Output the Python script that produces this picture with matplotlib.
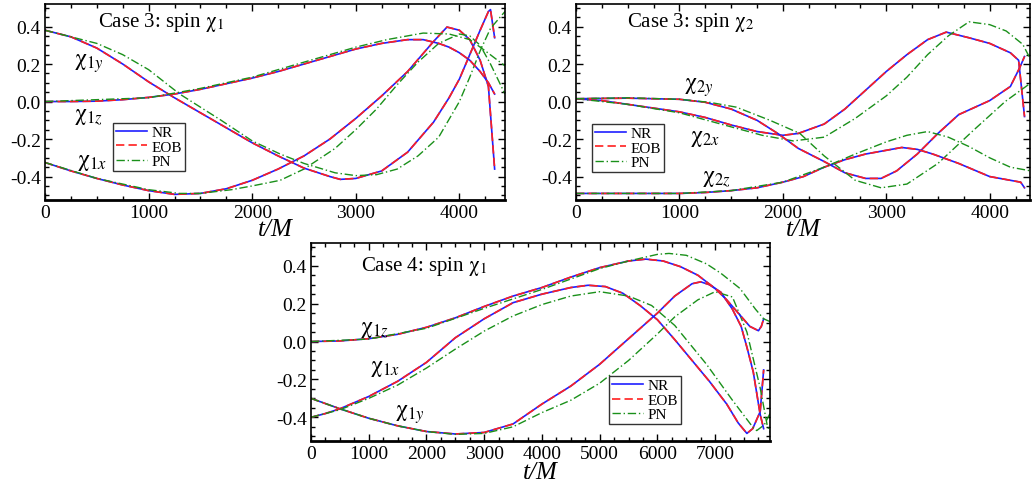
import matplotlib
matplotlib.use('Agg')
import matplotlib.pyplot as plt
from matplotlib.ticker import MultipleLocator, FormatStrFormatter

plt.rcParams['font.family'] = ['Liberation Serif', 'DejaVu Serif']
plt.rcParams['mathtext.fontset'] = 'stix'
plt.rcParams['axes.unicode_minus'] = False

# ---- Case 3, spin chi_1 (NR ~ EOB) ----
c3s1_x_t = [0, 250, 500, 750, 1000, 1250, 1500, 1750, 2000, 2250, 2500, 2750, 3000, 3250, 3500, 3750, 3880, 4000, 4100, 4200, 4280, 4340]
c3s1_x_nr = [-0.325, -0.37, -0.41, -0.445, -0.475, -0.495, -0.49, -0.465, -0.42, -0.36, -0.29, -0.20, -0.09, 0.03, 0.16, 0.32, 0.397, 0.38, 0.33, 0.22, 0.08, -0.36]
c3s1_y_t = [0, 250, 500, 750, 1000, 1250, 1500, 1750, 2000, 2250, 2500, 2750, 2850, 3000, 3250, 3500, 3750, 3900, 4000, 4100, 4200, 4280, 4300, 4340]
c3s1_y_nr = [0.38, 0.345, 0.285, 0.20, 0.105, 0.02, -0.06, -0.14, -0.22, -0.29, -0.355, -0.40, -0.415, -0.41, -0.37, -0.27, -0.11, 0.02, 0.12, 0.25, 0.38, 0.48, 0.49, 0.34]
c3s1_z_t = [0, 250, 500, 750, 1000, 1250, 1500, 1750, 2000, 2250, 2500, 2750, 3000, 3250, 3500, 3650, 3800, 3900, 4000, 4100, 4200, 4280, 4340]
c3s1_z_nr = [0.0, 0.0, 0.002, 0.01, 0.022, 0.04, 0.065, 0.095, 0.125, 0.16, 0.20, 0.24, 0.28, 0.31, 0.33, 0.33, 0.31, 0.29, 0.26, 0.22, 0.16, 0.10, 0.04]
# PN
c3s1_x_pn_t = [0, 500, 1000, 1300, 1500, 1800, 2000, 2270, 2500, 2800, 3000, 3200, 3400, 3600, 3800, 4000, 4100, 4200, 4300, 4440]
c3s1_x_pn = [-0.325, -0.41, -0.47, -0.49, -0.49, -0.47, -0.45, -0.42, -0.36, -0.25, -0.15, -0.04, 0.09, 0.21, 0.31, 0.36, 0.35, 0.30, 0.20, 0.04]
c3s1_y_pn_t = [0, 500, 750, 1000, 1300, 1500, 1700, 2000, 2270, 2500, 2800, 3000, 3200, 3400, 3600, 3800, 4000, 4100, 4200, 4300, 4440]
c3s1_y_pn = [0.38, 0.31, 0.25, 0.17, 0.04, -0.03, -0.10, -0.21, -0.28, -0.33, -0.38, -0.395, -0.39, -0.36, -0.29, -0.19, 0.0, 0.13, 0.27, 0.39, 0.48]
c3s1_z_pn_t = [0, 1000, 1500, 2000, 2500, 3000, 3300, 3650, 3900, 4100, 4250, 4440]
c3s1_z_pn = [0.0, 0.02, 0.07, 0.13, 0.21, 0.29, 0.33, 0.365, 0.36, 0.33, 0.27, 0.19]

# ---- Case 3, spin chi_2 ----
c3s2_x_t = [0, 250, 500, 750, 1000, 1250, 1500, 1750, 2000, 2150, 2400, 2600, 2800, 3000, 3200, 3400, 3580, 3800, 4000, 4200, 4280, 4337]
c3s2_x_nr = [0.015, 0.005, -0.015, -0.035, -0.055, -0.085, -0.125, -0.16, -0.18, -0.17, -0.12, -0.04, 0.06, 0.16, 0.25, 0.33, 0.37, 0.34, 0.31, 0.26, 0.22, -0.08]
c3s2_y_t = [0, 500, 1000, 1250, 1500, 1750, 1950, 2150, 2400, 2600, 2800, 2950, 3100, 3300, 3500, 3700, 4000, 4200, 4290, 4337]
c3s2_y_nr = [0.015, 0.018, 0.012, -0.004, -0.04, -0.10, -0.17, -0.25, -0.32, -0.38, -0.41, -0.41, -0.37, -0.28, -0.17, -0.07, 0.005, 0.08, 0.18, 0.24]
c3s2_z_t = [0, 1000, 1250, 1500, 1750, 2000, 2200, 2400, 2600, 2800, 3000, 3150, 3300, 3450, 3700, 4000, 4200, 4300, 4337]
c3s2_z_nr = [-0.49, -0.49, -0.485, -0.475, -0.46, -0.43, -0.40, -0.35, -0.31, -0.28, -0.26, -0.245, -0.255, -0.28, -0.33, -0.40, -0.42, -0.43, -0.46]
c3s2_x_pn_t = [0, 500, 1000, 1500, 1800, 2100, 2400, 2700, 3000, 3200, 3400, 3600, 3800, 4000, 4160, 4320, 4400]
c3s2_x_pn = [0.015, -0.015, -0.06, -0.135, -0.18, -0.21, -0.19, -0.09, 0.03, 0.13, 0.25, 0.35, 0.425, 0.41, 0.376, 0.305, 0.22]
c3s2_y_pn_t = [0, 500, 1000, 1300, 1550, 1875, 2164, 2400, 2700, 2950, 3200, 3500, 3850, 4150, 4400]
c3s2_y_pn = [0.015, 0.02, 0.012, -0.005, -0.03, -0.10, -0.17, -0.29, -0.42, -0.46, -0.44, -0.33, -0.15, 0.0, 0.10]
c3s2_z_pn_t = [0, 1000, 1500, 2000, 2400, 2700, 3000, 3200, 3400, 3600, 3800, 4000, 4200, 4400]
c3s2_z_pn = [-0.49, -0.49, -0.475, -0.43, -0.35, -0.28, -0.215, -0.18, -0.16, -0.19, -0.24, -0.30, -0.35, -0.37]

# ---- Case 4, spin chi_1 ----
c4s1_x_t = [0, 250, 500, 1000, 1500, 2000, 2500, 3000, 3500, 4000, 4500, 4800, 5100, 5400, 5700, 6000, 6300, 6600, 6900, 7200, 7400, 7550, 7650, 7780, 7840]
c4s1_x_nr = [-0.40, -0.38, -0.355, -0.29, -0.21, -0.11, 0.02, 0.12, 0.205, 0.25, 0.285, 0.297, 0.29, 0.255, 0.19, 0.115, 0.01, -0.10, -0.21, -0.33, -0.43, -0.485, -0.46, -0.37, -0.15]
c4s1_y_t = [0, 500, 1000, 1500, 2000, 2500, 3000, 3500, 4000, 4500, 5000, 5500, 6000, 6300, 6600, 6750, 6900, 7100, 7300, 7450, 7550, 7660, 7780, 7840]
c4s1_y_nr = [-0.30, -0.355, -0.405, -0.445, -0.475, -0.488, -0.48, -0.435, -0.33, -0.235, -0.12, 0.015, 0.15, 0.24, 0.305, 0.315, 0.30, 0.26, 0.17, 0.08, -0.03, -0.16, -0.385, -0.46]
c4s1_z_t = [0, 500, 1000, 1500, 2000, 2500, 3000, 3500, 4000, 4500, 5000, 5500, 5800, 6100, 6400, 6700, 7000, 7200, 7400, 7600, 7750, 7800, 7840]
c4s1_z_nr = [0.0, 0.003, 0.015, 0.038, 0.075, 0.125, 0.185, 0.24, 0.285, 0.34, 0.39, 0.425, 0.435, 0.425, 0.395, 0.35, 0.28, 0.22, 0.15, 0.08, 0.057, 0.08, 0.12]
c4s1_x_pn_t = [0, 500, 1000, 1500, 2000, 2500, 3000, 3500, 4000, 4500, 5000, 5500, 5900, 6300, 6850, 7300, 7660, 7720, 7850, 7950]
c4s1_x_pn = [-0.40, -0.36, -0.30, -0.23, -0.14, -0.04, 0.055, 0.135, 0.195, 0.24, 0.263, 0.24, 0.19, 0.085, -0.12, -0.31, -0.455, -0.47, -0.44, -0.38]
c4s1_y_pn_t = [0, 500, 1000, 1500, 2000, 2500, 3000, 3500, 4000, 4500, 5000, 5500, 6000, 6300, 6700, 7000, 7300, 7550, 7780, 7900, 7950]
c4s1_y_pn = [-0.30, -0.355, -0.405, -0.445, -0.475, -0.49, -0.485, -0.45, -0.375, -0.31, -0.22, -0.10, 0.04, 0.13, 0.22, 0.263, 0.235, 0.05, -0.245, -0.44, -0.48]
c4s1_z_pn_t = [0, 1000, 2000, 3000, 4000, 5000, 5500, 6000, 6200, 6500, 6850, 7100, 7430, 7700, 7840, 7950]
c4s1_z_pn = [0.0, 0.013, 0.07, 0.175, 0.275, 0.385, 0.425, 0.46, 0.465, 0.455, 0.41, 0.36, 0.28, 0.17, 0.12, 0.105]

W, H = 1032, 489
fig = plt.figure(figsize=(W / 100, H / 100), dpi=100)


def px_axes(l, t, r, b):
    return fig.add_axes([l / W, 1 - b / H, (r - l) / W, (b - t) / H])


def style(ax, xmax, lpad):
    ax.set_xlim(0, xmax)
    ax.set_ylim(-0.525, 0.52)
    ax.xaxis.set_major_locator(MultipleLocator(1000))
    ax.xaxis.set_minor_locator(MultipleLocator(250))
    ax.yaxis.set_major_locator(MultipleLocator(0.2))
    ax.yaxis.set_minor_locator(MultipleLocator(0.05))
    ax.yaxis.set_major_formatter(FormatStrFormatter('%.1f'))
    ax.tick_params(which='both', direction='in', top=True, right=True, labelsize=14, width=1)
    ax.tick_params(which='major', length=5, pad=3)
    ax.tick_params(which='minor', length=3)
    for s in ax.spines.values():
        s.set_linewidth(1.2)
    ax.spines['bottom'].set_linewidth(2)
    ax.set_xlabel('t/M', style='italic', fontsize=18, labelpad=lpad)


def draw(ax, series):
    for t, v, tp, vp in series:
        ax.plot(t, v, color='#1f1fff', lw=1.2, label='NR')
        ax.plot(t, v, color='#ff1f1f', lw=1.2, ls=(0, (5, 2.5)), label='EOB')
        ax.plot(tp, vp, color='#1a901a', lw=1.0, ls=(0, (6, 2, 1, 2)), label='PN')


def legend(ax, loc):
    h, l = ax.get_legend_handles_labels()
    lg = ax.legend(h[:3], l[:3], loc='upper left', bbox_to_anchor=loc, fontsize=11,
                   frameon=True, fancybox=False, edgecolor='black', handlelength=2.0,
                   handletextpad=0.3, borderpad=0.2, labelspacing=0.05, borderaxespad=0)
    lg.get_frame().set_linewidth(1.0)


chi = r'$\mathrm{\chi}_{%s\mathit{%s}}$'

ax1 = px_axes(45, 5, 505, 201)
style(ax1, 4440, -2)
draw(ax1, [(c3s1_x_t, c3s1_x_nr, c3s1_x_pn_t, c3s1_x_pn),
           (c3s1_y_t, c3s1_y_nr, c3s1_y_pn_t, c3s1_y_pn),
           (c3s1_z_t, c3s1_z_nr, c3s1_z_pn_t, c3s1_z_pn)])
ax1.text(0.115, 0.91, r'Case 3: spin $\mathrm{\chi}_1$', transform=ax1.transAxes, fontsize=15, va='center')
ax1.text(0.062, 0.70, chi % ('1', 'y'), transform=ax1.transAxes, fontsize=17, va='center')
ax1.text(0.062, 0.43, chi % ('1', 'z'), transform=ax1.transAxes, fontsize=17, va='center')
ax1.text(0.07, 0.195, chi % ('1', 'x'), transform=ax1.transAxes, fontsize=17, va='center')
legend(ax1, (0.148, 0.395))

ax2 = px_axes(576, 5, 1030, 201)
style(ax2, 4390, -2)
draw(ax2, [(c3s2_x_t, c3s2_x_nr, c3s2_x_pn_t, c3s2_x_pn),
           (c3s2_y_t, c3s2_y_nr, c3s2_y_pn_t, c3s2_y_pn),
           (c3s2_z_t, c3s2_z_nr, c3s2_z_pn_t, c3s2_z_pn)])
ax2.text(0.112, 0.91, r'Case 3: spin $\mathrm{\chi}_2$', transform=ax2.transAxes, fontsize=15, va='center')
ax2.text(0.237, 0.58, chi % ('2', 'y'), transform=ax2.transAxes, fontsize=17, va='center')
ax2.text(0.252, 0.32, chi % ('2', 'x'), transform=ax2.transAxes, fontsize=17, va='center')
ax2.text(0.278, 0.115, chi % ('2', 'z'), transform=ax2.transAxes, fontsize=17, va='center')
legend(ax2, (0.035, 0.39))

ax3 = px_axes(311, 244, 770, 442)
style(ax3, 7950, -1)
draw(ax3, [(c4s1_x_t, c4s1_x_nr, c4s1_x_pn_t, c4s1_x_pn),
           (c4s1_y_t, c4s1_y_nr, c4s1_y_pn_t, c4s1_y_pn),
           (c4s1_z_t, c4s1_z_nr, c4s1_z_pn_t, c4s1_z_pn)])
ax3.text(0.11, 0.885, r'Case 4: spin $\mathrm{\chi}_1$', transform=ax3.transAxes, fontsize=15, va='center')
ax3.text(0.107, 0.57, chi % ('1', 'z'), transform=ax3.transAxes, fontsize=17, va='center')
ax3.text(0.128, 0.37, chi % ('1', 'x'), transform=ax3.transAxes, fontsize=17, va='center')
ax3.text(0.183, 0.136, chi % ('1', 'y'), transform=ax3.transAxes, fontsize=17, va='center')
legend(ax3, (0.65, 0.33))

fig.savefig('out.png', dpi=100)
